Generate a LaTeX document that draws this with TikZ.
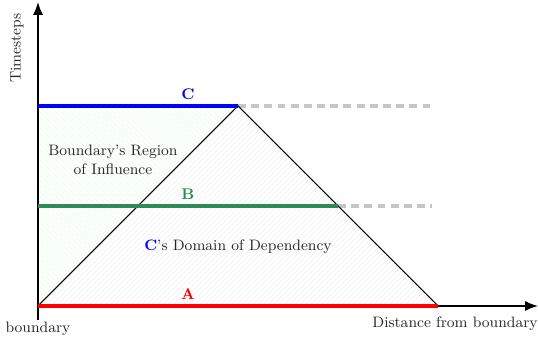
\documentclass[tikz,border=0pt]{standalone}
\usetikzlibrary{arrows.meta,patterns}
\definecolor{bgreen}{RGB}{46,139,87}
\tikzset{
  axis/.style={thick,-{Latex[length=2.6mm,width=2mm]}},
  level/.style={line width=2pt},
  ghost/.style={line width=2pt,gray!45,dash pattern=on 4.5pt off 3pt},
  cone/.style={semithick},
  lbl/.style={font=\fontsize{8.8}{10.5}\selectfont\bfseries,above,inner sep=2.5pt},
  txt/.style={font=\fontsize{8.6}{11}\selectfont,align=center,text=black!85}
}
\begin{document}
\begin{tikzpicture}[x=2cm,y=2cm]
\useasboundingbox (-0.38,-0.35) rectangle (5.0,3.06);
\coordinate (O) at (0,0);
\coordinate (Ctop) at (0,2);
\coordinate (Bl) at (0,1);
\coordinate (apex) at (2,2);
\coordinate (Bend) at (3,1);
\coordinate (base) at (4,0);
\coordinate (Cdash) at (3.94,2);
\coordinate (Bdash) at (3.94,1);
\coordinate (xend) at (5.0,0);
\coordinate (yend) at (0,3.04);
\coordinate (ybot) at (0,-0.14);
% fills
\fill[pattern=north west lines,pattern color=green!10] (O) -- (apex) -- (Ctop) -- cycle;
\fill[pattern=north east lines,pattern color=gray!10] (O) -- (apex) -- (base) -- cycle;
% axes
\draw[axis] (ybot) -- (yend);
\draw[axis] (O) -- (xend);
% dashed continuations
\draw[ghost] (apex) -- (Cdash);
\draw[ghost] (Bend) -- (Bdash);
% cone
\draw[cone] (O) -- (apex) -- (base);
% levels
\draw[level,blue] (Ctop) -- node[lbl,pos=0.75,text=blue] (lC) {C} (apex);
\draw[level,bgreen] (Bl) -- node[lbl,pos=0.5,text=bgreen] (lB) {B} (Bend);
\draw[level,red] (O) -- node[lbl,pos=0.375,text=red] (lA) {A} (base);
% texts
\node[txt] (infl) at (0.75,1.46) {Boundary's Region\\of Influence};
\node[txt] (dom) at (2.0,0.59) {\textcolor{blue}{\textbf{C}}'s Domain of Dependency};
\node[txt,below] (bd) at (0,-0.1) {boundary};
\node[txt] (dist) at (4.17,-0.18) {Distance from boundary};
\node[txt,rotate=90] (ts) at (-0.21,2.58) {Timesteps};
\end{tikzpicture}
\end{document}
